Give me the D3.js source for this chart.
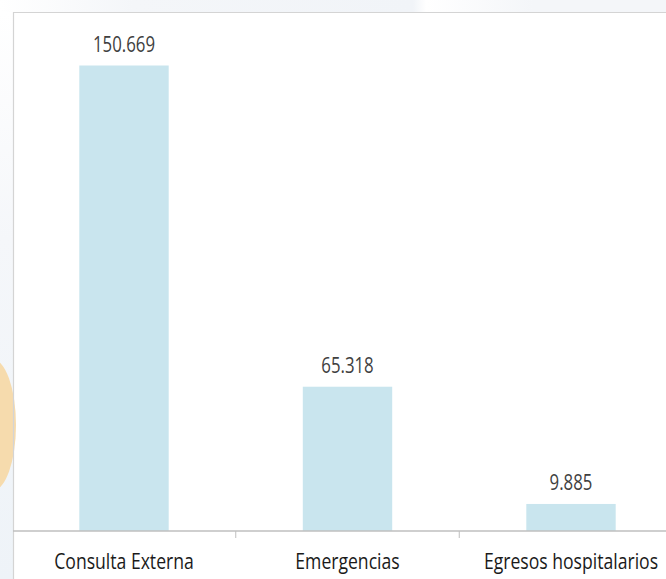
<!DOCTYPE html>
<html>
<head>
<meta charset="utf-8">
<script src="https://cdn.jsdelivr.net/npm/d3@7"></script>
<style>
  body { margin: 0; background: #fff; }
  svg { display: block; }
  .lbl { font-family: "Open Sans", "Noto Sans", sans-serif; }
</style>
</head>
<body>
<div id="chart"></div>
<script>
// categories and values as printed on the chart
var categories = ["Consulta Externa", "Emergencias", "Egresos hospitalarios"]
var valueLabels = ["150.669", "65.318", "9.885"]
// bar heights as drawn in the picture (same units as the labels)
var barValues = [150.669, 46.7, 8.75]

var width = 666
var height = 579
var baseY = 531
var squeeze = 0.8 // narrow the text, the original used a condensed face

var svg = d3.select("#chart")
            .append("svg")
            .attr("width", width)
            .attr("height", height)

// faint slide background round the chart frame
var defs = svg.append("defs")
var grad = defs.append("linearGradient").attr("id", "topband")
grad.append("stop").attr("offset", "0%").attr("stop-color", "#ffffff")
grad.append("stop").attr("offset", "20%").attr("stop-color", "#f4f6f9")
grad.append("stop").attr("offset", "62%").attr("stop-color", "#f1f4f8")
grad.append("stop").attr("offset", "64%").attr("stop-color", "#ffffff")
grad.append("stop").attr("offset", "80%").attr("stop-color", "#f4f6f9")
grad.append("stop").attr("offset", "100%").attr("stop-color", "#f4f6f9")

var side = defs.append("linearGradient").attr("id", "sideband")
   .attr("x1", 0).attr("y1", 0).attr("x2", 0).attr("y2", 1)
side.append("stop").attr("offset", "0%").attr("stop-color", "#ffffff")
side.append("stop").attr("offset", "40%").attr("stop-color", "#f5f7fa")
side.append("stop").attr("offset", "100%").attr("stop-color", "#eef3f8")

svg.append("rect").attr("x", 0).attr("y", 0).attr("width", width).attr("height", 12)
   .attr("fill", "url(#topband)")
svg.append("rect").attr("x", 0).attr("y", 12).attr("width", 13).attr("height", height - 12)
   .attr("fill", "url(#sideband)")
svg.append("ellipse").attr("cx", -8).attr("cy", 425).attr("rx", 24).attr("ry", 66)
   .attr("fill", "#f6dbad")

// chart frame
svg.append("path")
   .attr("d", "M13.5," + height + "V12.5H" + width)
   .attr("fill", "none")
   .attr("stroke", "#d4d4d4")
   .attr("stroke-width", 1.2)

// scales
var xScale = d3.scaleBand()
               .domain(categories)
               .range([12.25, 682.75])
               .paddingInner(0.6)
               .paddingOuter(0.3)

var yScale = d3.scaleLinear()
               .domain([0, 150.669])
               .range([baseY, 65.5])

var step = xScale.step()

// bars
svg.selectAll(".bar")
   .data(categories)
   .enter()
   .append("rect")
   .attr("class", "bar")
   .attr("x", d => xScale(d))
   .attr("width", xScale.bandwidth())
   .attr("y", (d, i) => yScale(barValues[i]))
   .attr("height", (d, i) => baseY - yScale(barValues[i]))
   .attr("fill", "#c9e5ee")

// value labels
svg.selectAll(".val")
   .data(categories)
   .enter()
   .append("text")
   .attr("class", "lbl val")
   .attr("transform", (d, i) => "translate(" + (xScale(d) + xScale.bandwidth() / 2) + ","
                                 + (yScale(barValues[i]) - 14) + ") scale(" + squeeze + ",1)")
   .attr("text-anchor", "middle")
   .attr("font-size", 21)
   .attr("fill", "#404040")
   .text((d, i) => valueLabels[i])

// x axis
var xAxis = d3.axisBottom(xScale).tickSize(0).tickPadding(0)
var gx = svg.append("g")
            .attr("transform", "translate(0," + baseY + ")")
            .call(xAxis)
gx.select(".domain").remove()
gx.selectAll("text")
  .attr("class", "lbl")
  .attr("y", 0)
  .attr("dy", 0)
  .attr("transform", "translate(0,38) scale(" + squeeze + ",1)")
  .attr("font-size", 22)
  .attr("fill", "#1a1a1a")

// tick marks between categories
gx.selectAll(".sep")
  .data(categories.slice(1))
  .enter()
  .append("line")
  .attr("x1", d => xScale(d) - step * xScale.paddingInner() / 2)
  .attr("x2", d => xScale(d) - step * xScale.paddingInner() / 2)
  .attr("y1", 0)
  .attr("y2", 7)
  .attr("stroke", "#bfbfbf")
  .attr("stroke-width", 1)

gx.append("line")
  .attr("x1", 13)
  .attr("x2", width)
  .attr("y1", 0)
  .attr("y2", 0)
  .attr("stroke", "#bfbfbf")
  .attr("stroke-width", 1.5)
</script>
</body>
</html>
